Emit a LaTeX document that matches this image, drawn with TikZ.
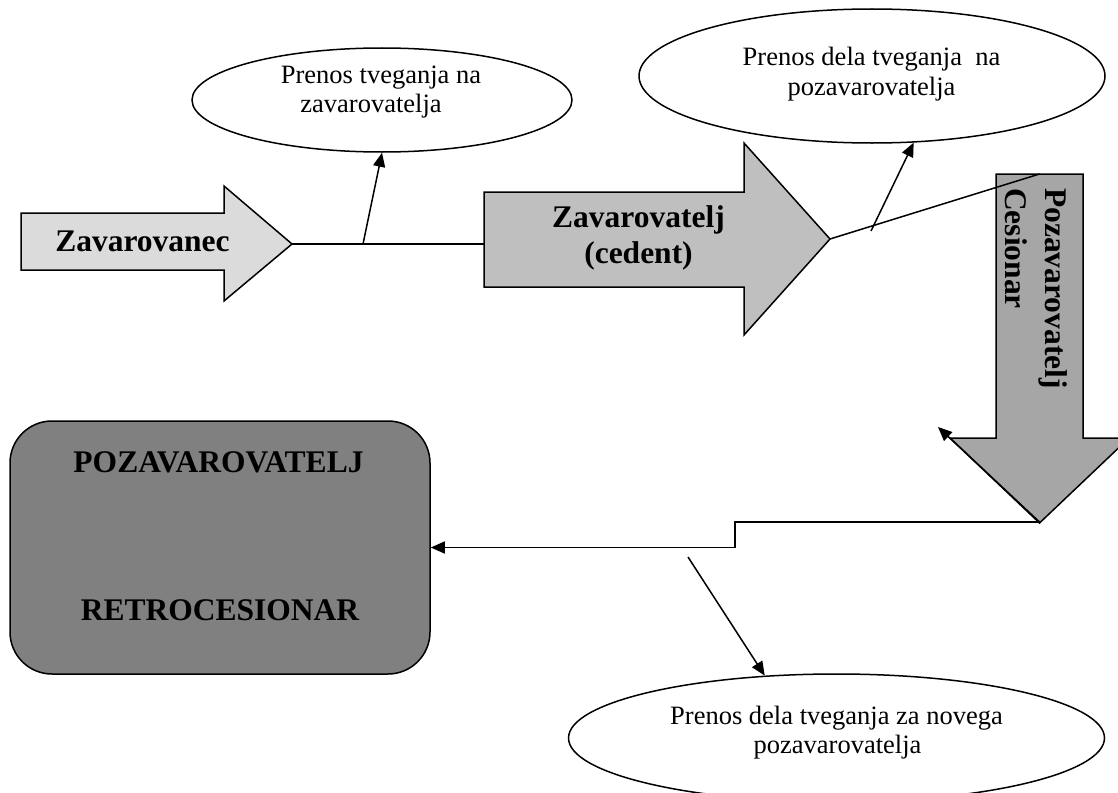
\documentclass[tikz,border=0pt]{standalone}
\usepackage{fontspec}
\setmainfont{Liberation Serif}
\usetikzlibrary{shapes.geometric,arrows.meta}
\definecolor{fillA}{gray}{0.86}
\definecolor{fillB}{gray}{0.75}
\definecolor{fillC}{gray}{0.65}
\definecolor{fillD}{gray}{0.5}
\begin{document}
\begin{tikzpicture}[x=1pt,y=-1pt,
  shapeline/.style={draw=black,line width=1.5pt,line join=miter},
  boldtxt/.style={font=\fontsize{31.5}{36}\selectfont\bfseries,inner sep=0pt},
  plaintxt/.style={font=\fontsize{26.5}{30}\selectfont,inner sep=0pt},
  link/.style={line width=1.5pt},
  tolink/.style={link,-{Triangle[length=14pt,width=12pt]}},
  bubble/.style={ellipse,draw,line width=1.5pt,inner sep=0pt,fill=white}]
\clip (0,0) rectangle (1118,792);

% explanatory bubbles
\node[bubble,minimum width=380pt,minimum height=104pt] (e1) at (382,100) {};
\node[bubble,minimum width=466pt,minimum height=134pt] (e2) at (872,76) {};
\node[bubble,minimum width=536pt,minimum height=128pt] (e3) at (836.5,738) {};

\node[plaintxt,anchor=base] (e1a) at (381,83) {Prenos tveganja na};
\node[plaintxt,anchor=base] (e1b) at (371,112) {zavarovatelja};
\node[plaintxt,anchor=base] (e2a) at (871.5,66) {Prenos dela tveganja\ \ na};
\node[plaintxt,anchor=base] (e2b) at (871.5,95) {pozavarovatelja};
\node[plaintxt,anchor=base] (e3a) at (836.5,724) {Prenos dela tveganja za novega};
\node[plaintxt,anchor=base] (e3b) at (837.5,753) {pozavarovatelja};

% block arrows
\draw[shapeline,fill=fillA] (21,213) -- (224,213) -- (224,186) -- (292,244)
  -- (224,301) -- (224,270) -- (21,270) -- cycle;
\coordinate (zvtip) at (292,244);
\node[boldtxt,anchor=base] (zv) at (142.5,251) {Zavarovanec};

\draw[shapeline,fill=fillB] (484,192) -- (744,192) -- (744,143) -- (830,239)
  -- (744,335) -- (744,287) -- (484,287) -- cycle;
\coordinate (zltail) at (484,244);
\coordinate (zltip) at (830,239);
\node[boldtxt,anchor=base] (zl1) at (638.5,227) {Zavarovatelj};
\node[boldtxt,anchor=base] (zl2) at (638.5,263) {(cedent)};

\draw[shapeline,fill=fillC] (996,174) -- (1083,174) -- (1083,438) -- (1129,438)
  -- (1039.5,523) -- (950,438) -- (996,438) -- cycle;
\coordinate (dtop) at (1039.5,174);
\coordinate (dtip) at (1039.5,522);
\node[boldtxt,rotate=-90,anchor=base west] (ps1) at (1045,188) {Pozavarovatelj};
\node[boldtxt,rotate=-90,anchor=base west] (ps2) at (1005,188) {Cesionar};

% retrocessionaire box
\node[draw,line width=1.5pt,fill=fillD,rounded corners=42pt,
  minimum width=420pt,minimum height=253pt,inner sep=0pt] (retro) at (220,547.5) {};
\node[boldtxt,anchor=base] (r1) at (218.5,472) {POZAVAROVATELJ};
\node[boldtxt,anchor=base] (r2) at (220,620) {RETROCESIONAR};

% connectors
\coordinate (b1) at (363,244);
\coordinate (b2) at (871,231);
\coordinate (b3) at (688,557);
\coordinate (kink) at (735,522);
\coordinate (dcorner) at (938,427);

\draw[link] (zvtip) -- (zltail);
\draw[tolink] (b1) -- (e1.south);
\draw[link] (zltip) -- (dtop);
\draw[tolink] (b2) -- (e2.302);
\draw[tolink] (dtip) -- (kink) |- (retro.east);
\draw[tolink] (dtip) -- (dcorner);
\draw[tolink] (b3) -- (e3.139);
\end{tikzpicture}
\end{document}
